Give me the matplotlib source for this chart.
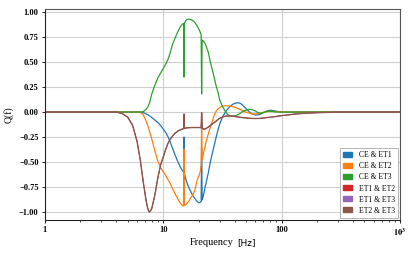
import matplotlib
matplotlib.use("Agg")
import matplotlib.pyplot as plt
from matplotlib.patches import Patch
from matplotlib.ticker import FixedLocator, FixedFormatter, NullFormatter

freq = [1, 3, 4, 4.5, 5, 5.5, 6, 6.4, 6.8, 7.2,
        7.4, 7.6, 7.8, 8.0, 8.5, 9.0, 9.5, 10, 10.5, 11, 11.5, 12,
        12.5, 13, 13.5, 14, 14.5, 14.9, 15.0, 15.1, 15.5, 16,
        16.5, 17, 17.5, 18, 18.5, 19, 19.5, 20, 20.5, 20.9,
        21.1, 21.3, 21.8, 22.5, 23, 24, 25, 26, 27, 28,
        29, 30, 31, 32, 33.5, 35, 37, 39, 41, 43,
        45, 47, 50, 53, 56, 60, 64, 68, 72, 76,
        80, 85, 90, 100, 115, 130, 150, 180, 220, 270,
        320, 400, 1000]

q_ce_et1 = [0, 0, 0, 0, 0, 0, 0, 0, -0.008, -0.02,
            -0.027, -0.035, -0.045, -0.055, -0.08, -0.105, -0.135, -0.17, -0.205, -0.25, -0.305, -0.365,
            -0.42, -0.47, -0.515, -0.555, -0.585, -0.605, -0.25, -0.62, -0.67, -0.72,
            -0.76, -0.79, -0.82, -0.845, -0.865, -0.885, -0.9, -0.907, -0.905, -0.895,
            -0.35, -0.88, -0.84, -0.76, -0.71, -0.61, -0.5, -0.41, -0.33, -0.25,
            -0.18, -0.12, -0.075, -0.04, 0.0, 0.03, 0.06, 0.08, 0.09, 0.093,
            0.085, 0.068, 0.035, 0.005, -0.018, -0.03, -0.028, -0.015, 0.0, 0.012,
            0.018, 0.015, 0.008, 0.0, -0.002, 0, 0, 0, 0, 0,
            0, 0, 0]

q_ce_et2 = [0, 0, 0, 0, 0, 0, 0, 0, -0.03, -0.097,
            -0.135, -0.18, -0.225, -0.27, -0.39, -0.49, -0.555, -0.6, -0.635, -0.68, -0.72, -0.77,
            -0.81, -0.85, -0.885, -0.915, -0.935, -0.94, -0.37, -0.93, -0.93, -0.91,
            -0.89, -0.86, -0.84, -0.815, -0.78, -0.72, -0.67, -0.64, -0.6, -0.53,
            -0.11, -0.48, -0.42, -0.35, -0.3, -0.22, -0.15, -0.09, -0.03, 0.01,
            0.03, 0.045, 0.055, 0.06, 0.063, 0.062, 0.058, 0.052, 0.045, 0.035,
            0.025, 0.012, 0.0, -0.01, -0.018, -0.02, -0.015, -0.006, 0.0, 0.005,
            0.008, 0.007, 0.004, 0.001, 0, 0, 0, 0, 0, 0,
            0, 0, 0]

q_ce_et3 = [0, 0, 0, 0, 0, 0, 0, 0, 0.005, 0.03,
            0.05, 0.08, 0.125, 0.18, 0.27, 0.34, 0.39, 0.435, 0.48, 0.53, 0.6, 0.68,
            0.73, 0.78, 0.82, 0.855, 0.88, 0.885, 0.35, 0.89, 0.915, 0.928,
            0.93, 0.925, 0.92, 0.91, 0.895, 0.875, 0.855, 0.83, 0.8, 0.77,
            0.18, 0.72, 0.71, 0.69, 0.66, 0.6, 0.5, 0.42, 0.34, 0.26,
            0.2, 0.12, 0.08, 0.045, 0.005, -0.025, -0.04, -0.04, -0.035, -0.025,
            -0.01, 0.008, 0.02, 0.027, 0.025, 0.01, -0.01, -0.012, 0.0, 0.01,
            0.008, 0.004, 0.0, 0, 0, 0, 0, 0, 0, 0,
            0, 0, 0]

q_et2_et3 = [0, 0, 0, -0.015, -0.05, -0.13, -0.29, -0.48, -0.71, -0.9,
             -0.965, -1.0, -0.99, -0.965, -0.83, -0.66, -0.53, -0.45, -0.37, -0.31, -0.27, -0.24,
             -0.215, -0.2, -0.185, -0.178, -0.17, -0.165, -0.02, -0.165, -0.16, -0.158,
             -0.157, -0.156, -0.155, -0.155, -0.155, -0.155, -0.155, -0.155, -0.156, -0.157,
             -0.005, -0.16, -0.17, -0.17, -0.165, -0.15, -0.135, -0.12, -0.105, -0.09,
             -0.075, -0.062, -0.055, -0.048, -0.042, -0.04, -0.04, -0.042, -0.046, -0.05,
             -0.053, -0.056, -0.059, -0.062, -0.064, -0.065, -0.064, -0.062, -0.058, -0.055,
             -0.052, -0.048, -0.044, -0.036, -0.028, -0.02, -0.014, -0.009, -0.005, -0.002,
             0, 0, 0]

# the two ET1 pairs sit right under ET2 & ET3 in the picture
q_et1_et2 = q_et2_et3
q_et1_et3 = q_et2_et3

labels = ["CE & ET1", "CE & ET2", "CE & ET3", "ET1 & ET2", "ET1 & ET3", "ET2 & ET3"]
series = [q_ce_et1, q_ce_et2, q_ce_et3, q_et1_et2, q_et1_et3, q_et2_et3]
colors = ["tab:blue", "tab:orange", "tab:green", "tab:red", "tab:purple", "tab:brown"]
widths = [0.9, 0.9, 0.9, 0.5, 0.5, 1.0]

serif = "Liberation Serif"
plt.rcParams["mathtext.fontset"] = "stix"

fig = plt.figure(figsize=(4.15, 2.6), dpi=100)
ax = fig.add_axes([0.108, 0.154, 0.856, 0.811])

for q, c, w in zip(series, colors, widths):
    ax.plot(freq, q, color=c, lw=w)

ax.set_xscale("log")
ax.set_xlim(1, 1000)
ax.set_ylim(-1.08, 1.03)
ax.xaxis.set_major_locator(FixedLocator([1, 10, 100, 1000]))
ax.xaxis.set_major_formatter(FixedFormatter(["1", "10", "100", r"$\mathbf{10^3}$"]))
ax.xaxis.set_minor_formatter(NullFormatter())
ax.set_yticks([-1.0, -0.75, -0.5, -0.25, 0.0, 0.25, 0.5, 0.75, 1.0])
ax.set_yticklabels(["\u22121.00", "\u22120.75", "\u22120.50", "\u22120.25", "0.00",
                    "0.25", "0.50", "0.75", "1.00"])
ax.grid(True, which="major", color="#d0d0d0", lw=0.8)
ax.tick_params(labelsize=6, length=2.5, width=0.6, pad=2)
ax.tick_params(which="minor", length=1.5, width=0.5)
for lab in ax.get_xticklabels() + ax.get_yticklabels():
    lab.set_fontfamily(serif)
    lab.set_fontweight("bold")
for s in ax.spines.values():
    s.set_linewidth(0.8)
    s.set_color("#555555")
ax.spines["left"].set_color("#222222")
ax.spines["bottom"].set_color("#222222")

ax.set_ylabel("Q(f)", fontfamily=serif, fontsize=7, labelpad=4)
fig.text(0.562, 0.058, "Frequency", fontfamily=serif, fontsize=7.5, ha="right")
fig.text(0.572, 0.058, "[Hz]", fontfamily="DejaVu Sans", fontsize=6.5, ha="left")

handles = [Patch(color=c) for c in colors]
leg = ax.legend(handles, labels, loc="lower right", prop={"family": serif, "size": 5.5},
                fancybox=False, edgecolor="#aaaaaa", framealpha=1.0,
                handlelength=1.2, handleheight=0.6, handletextpad=0.8,
                labelspacing=0.4, borderpad=0.4, borderaxespad=0.3)
leg.get_frame().set_linewidth(0.6)

fig.savefig("out.png", dpi=100)
